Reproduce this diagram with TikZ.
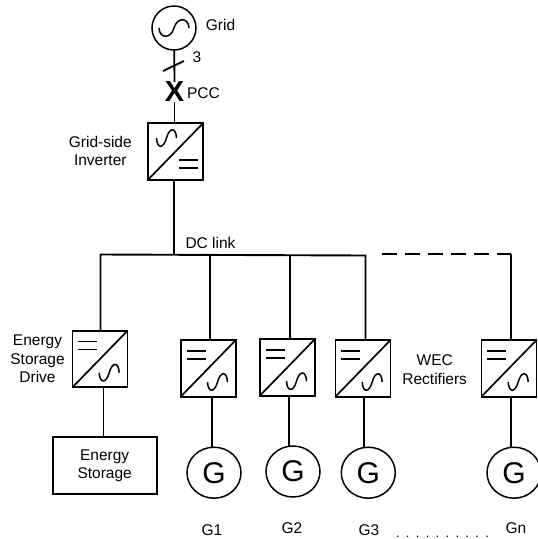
\documentclass[tikz,border=0pt]{standalone}
\usepackage{fontspec}
\setmainfont{Liberation Sans}
\usetikzlibrary{calc,shapes.geometric}
\tikzset{
  conv/.style={rectangle, draw, line width=1.9pt, minimum width=55pt, minimum height=56.5pt, inner sep=0pt, outer sep=0pt},
  gen/.style={ellipse, draw, line width=1.5pt, minimum width=54pt, minimum height=51pt, inner sep=0pt, outer sep=0pt, font=\fontsize{30}{30}\selectfont},
  lbl/.style={align=center, inner sep=0pt, font=\fontsize{15.5}{18.7}\selectfont},
  wire/.style={line width=1.8pt},
  bus/.style={line width=1.9pt}
}
% ac/dc symbols inside a converter box
\newcommand{\dcmark}[2]{\draw[line width=1.5pt] ($(#1)+(#2)+(-9.5pt,-4pt)$) -- ++(19pt,0pt) ($(#1)+(#2)+(-9.5pt,4pt)$) -- ++(19pt,0pt);}
\newcommand{\acmark}[3]{\draw[line width=1.5pt] ($(#1)+(#2)+(-#3,0pt)$) .. controls +(0.5pt,-11pt) and +(-3pt,-11pt) .. ($(#1)+(#2)$) .. controls +(3pt,11pt) and +(-0.5pt,11pt) .. ($(#1)+(#2)+(#3,0pt)$);}
\newcommand{\gapdot}{.\hskip6.3pt}
\begin{document}
\begin{tikzpicture}[x=1pt, y=-1pt]
  \useasboundingbox (0,0) rectangle (538,539);
  % grid side
  \node[circle, draw, line width=1.5pt, minimum size=44pt, inner sep=0pt, outer sep=0pt] (grid) at (174,28) {};
  \node[lbl] (gridtxt) at (220.5,25) {Grid};
  \node[lbl] (three) at (197,57) {3};
  \node[inner sep=0pt, font=\fontsize{29}{29}\selectfont\bfseries] (pcc) at (174.5,92) {X};
  \node[lbl] (pcctxt) at (203.5,93) {PCC};
  \node[conv] (inv) at (175.5,151.5) {};
  \node[lbl] (invtxt) at (100.3,151) {Grid-side\\Inverter};
  % bus
  \coordinate (busl) at (100.5,254.5);
  \coordinate (busm) at (174.3,254.8);
  \coordinate (busr) at (365.5,255.5);
  \coordinate (dashl) at (382,254);
  \coordinate (dashr) at (511,254);
  \coordinate (tap1) at (210.3,255);
  \coordinate (tap2) at (289.7,255);
  \node[lbl] (dclink) at (210.5,243) {DC link};
  % converters
  \node[conv] (esd) at (100,359) {};
  \node[conv] (c1) at (208.3,368.3) {};
  \node[conv] (c2) at (287.3,367.5) {};
  \node[conv] (c3) at (363,368.3) {};
  \node[conv] (cn) at (509,368.3) {};
  \node[lbl] (esdtxt) at (37.5,359) {Energy\\Storage\\Drive};
  \node[lbl] (rectxt) at (434.7,370) {WEC\\Rectifiers};
  % loads
  \node[rectangle, draw, line width=1.8pt, minimum width=104pt, minimum height=57pt, lbl, outer sep=0pt] (es) at (104.7,465.8) {Energy\\Storage};
  \node[gen] (g1) at (214,472.7) {G};
  \node[gen] (g2) at (293,471.5) {G};
  \node[gen] (g3) at (368.3,472.7) {G};
  \node[gen] (gn) at (514,472.7) {G};
  \node[lbl] (g1txt) at (212,530) {G1};
  \node[lbl] (g2txt) at (292,528) {G2};
  \node[lbl] (g3txt) at (369,530) {G3};
  \node[lbl] (gntxt) at (516,528) {Gn};
  \node[inner sep=0pt, font=\fontsize{13}{13}\selectfont] (dots) at (442.5,536.5) {\gapdot\gapdot\gapdot\gapdot\gapdot\gapdot\gapdot\gapdot\gapdot.};
  % wires
  \draw[wire] (grid) -- (pcc.north);
  \draw[wire] (pcc.south) -- (pcc.south |- inv.north);
  \draw[wire] (163,71) -- (184,61);
  \draw[wire] (busm) -- (busm |- inv.south);
  \draw[bus] (esd.north -| busl) -- (busl) -- (busr) -- (busr |- c3.north);
  \draw[bus, dash pattern=on 15pt off 8pt] (dashl) -- (dashr);
  \draw[bus] (dashr) -- (dashr |- cn.north);
  \draw[wire] (tap1) -- (tap1 |- c1.north);
  \draw[wire] (tap2) -- (tap2 |- c2.north);
  \draw[wire] ([xshift=3.5pt]esd.south) -- ([xshift=-1.2pt]es.north);
  \draw[wire] ([xshift=3.7pt]c1.south) -- ([xshift=-2pt]g1.north);
  \draw[wire] ([xshift=2pt]c2.south) -- ([xshift=-3.7pt]g2.north);
  \draw[wire] ([xshift=1pt]c3.south) -- ([xshift=-4.3pt]g3.north);
  \draw[wire] ([xshift=2pt]cn.south) -- ([xshift=-3pt]gn.north);
  % converter symbols
  \foreach \c in {inv,esd,c1,c2,c3,cn}
    \draw[line width=1.7pt] (\c.south west) -- (\c.north east);
  \acmark{inv}{-9pt,13.5pt}{10pt}
  \dcmark{inv}{13pt,-12.5pt}
  \acmark{grid}{0pt,0pt}{15pt}
  \foreach \c in {esd,c1,c2,c3,cn}{
    \dcmark{\c}{-12.3pt,13.5pt}
    \acmark{\c}{9.2pt,-13.7pt}{10pt}
  }
\end{tikzpicture}
\end{document}
